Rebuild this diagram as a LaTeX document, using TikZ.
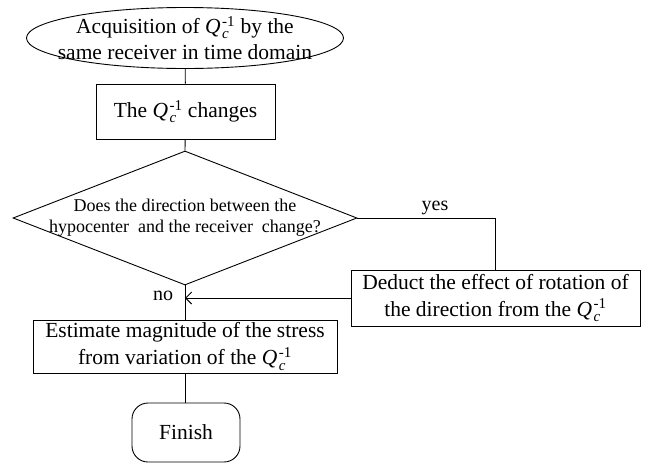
\documentclass[tikz,border=0pt]{standalone}
\usepackage{amsmath}
\usepackage{fontspec}
\setmainfont{Liberation Serif}
\usetikzlibrary{arrows.meta,shapes.geometric}
\newcommand{\Qc}{\textit{Q}\kern1.5pt$_{\textit{c}}^{\textrm{-1}}$}
\tikzstyle{terminal}=[ellipse,draw,line width=0.9pt,minimum width=317pt,minimum height=61pt,inner sep=0pt]
\tikzstyle{process}=[rectangle,draw,line width=0.9pt,inner sep=2pt,align=center,font=\fontsize{21.5}{27}\selectfont]
\tikzstyle{decision}=[diamond,draw,line width=0.9pt,minimum width=344pt,minimum height=134pt,inner sep=0pt]
\tikzstyle{stop}=[rectangle,rounded corners=16pt,draw,line width=0.9pt,minimum width=108pt,minimum height=59pt,font=\fontsize{21.5}{27}\selectfont]
\tikzstyle{txt}=[align=center,inner sep=0pt]

\begin{document}
\begin{tikzpicture}[x=1pt,y=-1pt]
    \useasboundingbox (0,0) rectangle (649,464);

    % shapes
    \node[terminal] (start) at (185,38) {};
    \node[txt, font=\fontsize{21.5}{26}\selectfont] (starttext) at (start.center) {Acquisition of \Qc{} by the\\same receiver in time domain};

    \node[process, minimum width=179pt, minimum height=55pt] (change) at (185.5,111.5) {The \Qc{} changes};

    \node[decision] (decide) at (185,218) {};
    \node[txt, font=\fontsize{18}{21}\selectfont] (decidetext) at (decide.center) {Does the direction between the\\hypocenter\ \ and the receiver\ \ change?};

    \node[process, minimum width=289pt, minimum height=56pt] (deduct) at (495.5,298) {Deduct the effect of rotation of\\the direction from the \Qc};

    \node[process, minimum width=304pt, minimum height=53pt] (estimate) at (185,346.5) {Estimate magnitude of the stress\\from variation of the \Qc};

    \node[stop] (finish) at (186,432.5) {Finish};

    % labels
    \node[font=\fontsize{20}{24}\selectfont] (yeslabel) at (435,208) {yes};
    \node[font=\fontsize{20}{24}\selectfont] (nolabel) at (163,296) {no};

    % connectors
    \draw[line width=0.9pt] (start) -- (change);
    \draw[line width=0.9pt] (change) -- (decide.north);
    \draw[line width=0.9pt] (decide.east) -| (deduct.north);
    \draw[line width=0.9pt] (decide.south) -- (estimate.north);
    \draw[line width=0.9pt, -{Straight Barb[length=6pt,width=12pt]}] (deduct.west) -- (deduct.west -| decide.south);
    \draw[line width=0.9pt] (estimate.south) -- (finish.north -| estimate.south);

\end{tikzpicture}
\end{document}
